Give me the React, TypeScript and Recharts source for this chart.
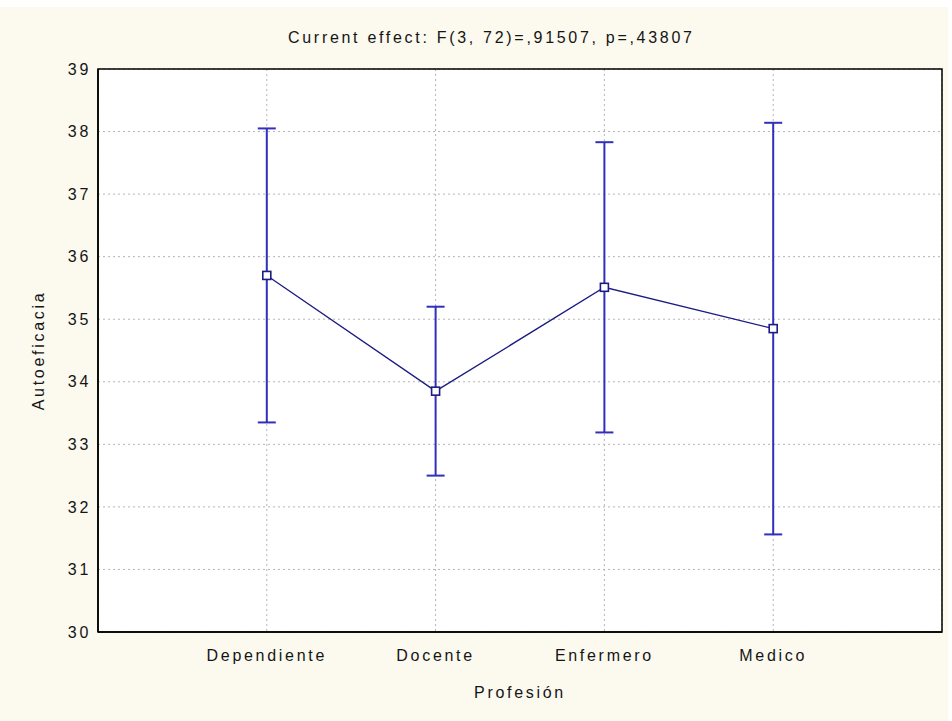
import React from 'react';
import { LineChart, Line, XAxis, YAxis, CartesianGrid, ErrorBar, ReferenceArea } from 'recharts';

const categories = ['Dependiente', 'Docente', 'Enfermero', 'Medico'];
const positions = [1, 2, 3, 4];
const means = [35.7, 33.85, 35.51, 34.85];
const ciHalf = [2.35, 1.35, 2.32, 3.29];
const yTicks = [30, 31, 32, 33, 34, 35, 36, 37, 38, 39];
const titleText = 'Current effect: F(3, 72)=,91507, p=,43807';
const xTitle = 'Profesión';
const yTitle = 'Autoeficacia';

const data = categories.map((c, i) => ({ x: positions[i], name: c, mean: means[i], ci: ciHalf[i] }));

const FONT = '"Liberation Sans", Arial, sans-serif';
const textStyle = { fontFamily: FONT, fontSize: 16, letterSpacing: '2.7px', fill: '#151515' };

const SquareDot = (props: any) => {
  const { cx, cy, index } = props;
  if (cx == null || cy == null) return null;
  return (
    <rect key={`d${index}`} x={cx - 4} y={cy - 4} width={8} height={8} fill="#ffffff" stroke="#1c1c84" strokeWidth={1.6} />
  );
};

export default function App() {
  return (
    <div style={{ position: 'absolute', left: 0, top: 0, width: 952, height: 721, background: '#ffffff' }}>
      <div style={{ position: 'absolute', left: 0, top: 7, width: 948, height: 714, background: '#fcf9ef' }} />
      <div
        style={{
          position: 'absolute',
          left: 288,
          top: 29,
          fontFamily: FONT,
          fontSize: 16,
          letterSpacing: '2.7px',
          color: '#151515',
          whiteSpace: 'nowrap',
        }}
      >
        {titleText}
      </div>
      <div style={{ position: 'absolute', left: 0, top: 0 }}>
        <LineChart width={948} height={721} data={data} margin={{ top: 69, right: 6, left: 20, bottom: 19 }}>
          <CartesianGrid fill="#ffffff" fillOpacity={1} stroke="#b4b4b4" strokeDasharray="2 3" />
          <XAxis
            dataKey="x"
            type="number"
            domain={[0, 5]}
            ticks={positions}
            tickFormatter={(v: number) => categories[positions.indexOf(v)]}
            height={70}
            tickLine={false}
            tickMargin={12}
            axisLine={{ stroke: '#000', strokeWidth: 1.5 }}
            tick={textStyle}
            label={{ value: xTitle, position: 'insideBottom', offset: 4, style: textStyle }}
            allowDataOverflow
          />
          <YAxis
            type="number"
            domain={[30, 39]}
            ticks={yTicks}
            width={78}
            tickLine={false}
            tickMargin={1}
            axisLine={{ stroke: '#000', strokeWidth: 1.5 }}
            tick={textStyle}
            label={{ value: yTitle, angle: -90, position: 'insideLeft', offset: 18, style: { ...textStyle, textAnchor: 'middle' } }}
            allowDataOverflow
          />
          <ReferenceArea x1={0} x2={5} y1={30} y2={39} fill="none" stroke="#000" strokeWidth={1.5} ifOverflow="visible" />
          <Line
            dataKey="mean"
            stroke="#1c1c84"
            strokeWidth={1.3}
            dot={SquareDot}
            activeDot={false}
            isAnimationActive={false}
          >
            <ErrorBar dataKey="ci" direction="y" width={9} stroke="#3030bb" strokeWidth={2} isAnimationActive={false} />
          </Line>
        </LineChart>
      </div>
    </div>
  );
}
